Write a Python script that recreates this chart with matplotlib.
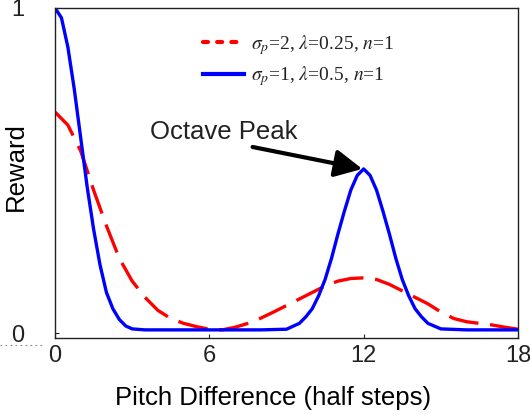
import numpy as np
import matplotlib
matplotlib.use('Agg')
import matplotlib.pyplot as plt
from matplotlib.lines import Line2D

# pitch difference (half steps) and reward values
x_blue = [0, 0.25, 0.5, 0.75, 1.0, 1.25, 1.5, 1.75, 2.0, 2.25, 2.5, 2.75, 3.0, 3.5,
          4, 5, 6, 7, 8, 9, 9.5, 9.75, 10, 10.25, 10.5, 10.75, 11, 11.25, 11.5, 11.75,
          12, 12.25, 12.5, 12.75, 13, 13.25, 13.5, 13.75, 14, 14.25, 14.5,
          15, 16, 17, 18]
y_blue = [1.0, 0.97, 0.88, 0.75, 0.60, 0.45, 0.32, 0.21, 0.125, 0.075, 0.042, 0.022, 0.013, 0.01,
          0.01, 0.01, 0.01, 0.01, 0.01, 0.012, 0.03, 0.05, 0.075, 0.115, 0.165, 0.23, 0.305,
          0.375, 0.44, 0.485, 0.505, 0.485, 0.44, 0.375, 0.305, 0.23, 0.165, 0.115,
          0.075, 0.05, 0.03, 0.013, 0.01, 0.01, 0.01]

x_red = [0, 0.5, 1, 1.5, 2, 2.5, 3, 3.5, 4, 4.5, 5, 5.5, 6, 6.5, 7, 7.5, 8, 8.5, 9,
         9.5, 10, 10.5, 11, 11.5, 12, 12.5, 13, 13.5, 14, 14.5, 15, 15.5, 16, 16.5,
         17, 17.5, 18]
y_red = [0.68, 0.64, 0.56, 0.44, 0.33, 0.23, 0.16, 0.11, 0.07, 0.045, 0.03, 0.02, 0.012,
         0.01, 0.018, 0.03, 0.046, 0.065, 0.085, 0.105, 0.125, 0.145, 0.16, 0.168, 0.17,
         0.165, 0.15, 0.13, 0.11, 0.09, 0.065, 0.045, 0.035, 0.03, 0.025, 0.018, 0.012]

x_ticks = [0, 6, 12, 18]
y_ticks = [0, 1]

label_red = r'$\sigma_p$=2, $\lambda$=0.25, $n$=1'
label_blue = r'$\sigma_p$=1, $\lambda$=0.5, $n$=1'

plt.rcParams['font.family'] = ['Liberation Sans', 'DejaVu Sans']
plt.rcParams['mathtext.fontset'] = 'stix'
plt.rcParams['text.color'] = '#222222'
plt.rcParams['xtick.color'] = '#222222'
plt.rcParams['ytick.color'] = '#222222'

fig = plt.figure(figsize=(5.3, 4.15), dpi=100)
ax = fig.add_axes([55/530, 1-338/415, 463/530, 330/415])

ax.plot(x_red, y_red, color='#ff0000', lw=2.4, dashes=(9, 3.5))
ax.plot(x_blue, y_blue, color='#0000ff', lw=2.4)

ax.set_xlim(0, 18)
ax.set_ylim(-0.015, 1.0)
ax.set_xticks(x_ticks)
ax.set_yticks(y_ticks)
ax.tick_params(axis='both', direction='in', length=3, width=0.8, labelsize=17)
ax.tick_params(axis='x', pad=5)
ax.tick_params(axis='y', pad=22)
for s in ax.spines.values():
    s.set_linewidth(1.0)
    s.set_color('#222222')

ax.set_xlabel('Pitch Difference (half steps)', fontsize=18.5)
ax.xaxis.set_label_coords(0.47, -0.145)
ax.set_ylabel('Reward', fontsize=18.5)
ax.yaxis.set_label_coords(-0.058, 0.52)

handles = [Line2D([], [], color='#ff0000', lw=3, linestyle=(0, (1.2, 2.2)), dash_capstyle='round'),
           Line2D([], [], color='#0000ff', lw=3)]
leg = ax.legend(handles, [label_red, label_blue], loc='upper left',
                bbox_to_anchor=(0.32, 0.925), frameon=False, handlelength=2.1,
                handletextpad=0.35, labelspacing=0.4, borderpad=0, borderaxespad=0,
                prop={'family': 'Liberation Serif', 'size': 14})

ax.annotate('Octave Peak', xy=(11.95, 0.505), xytext=(3.7, 0.618),
            fontsize=18.5, ha='left', va='center',
            arrowprops=dict(arrowstyle='-|>,head_length=0.9,head_width=0.45',
                            color='black', lw=3, shrinkA=0, shrinkB=0,
                            relpos=(0.6, 0.0)))

# stray dotted rule left of the axes, as in the source image
fig.add_artist(Line2D([0, 45/530], [1-345/415, 1-345/415], color='#888888',
                      lw=0.8, linestyle=(0, (1.5, 3))))

fig.savefig('out.png', dpi=100)
